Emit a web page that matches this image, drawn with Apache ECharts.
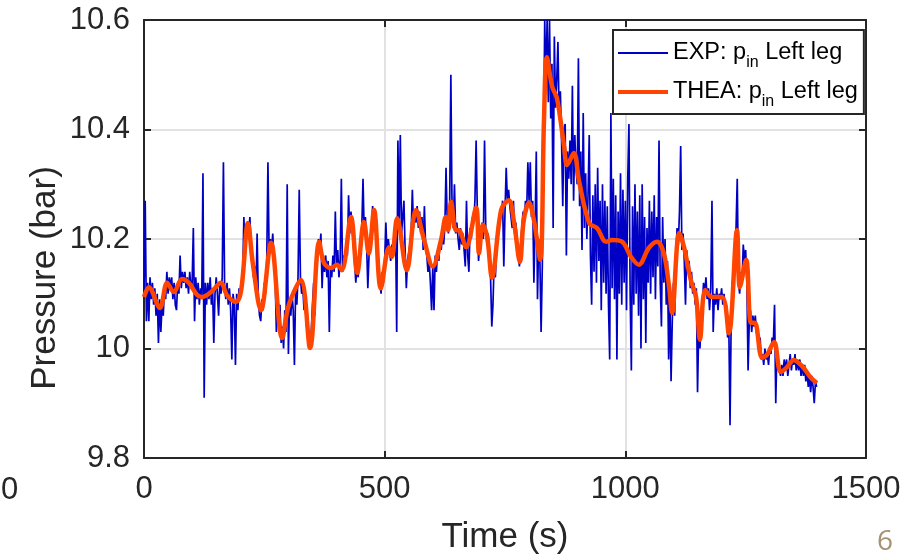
<!DOCTYPE html>
<html>
<head>
<meta charset="utf-8">
<script src="https://cdn.jsdelivr.net/npm/echarts@6/dist/echarts.min.js"></script>
<style>
html,body{margin:0;padding:0;background:#fff;}
#chart{width:912px;height:555px;}
</style>
</head>
<body>
<div id="chart"></div>
<script>
// ---- data ----
const xTicks = [0, 500, 1000, 1500];
const yTicks = [9.8, 10, 10.2, 10.4, 10.6];
const seriesNames = ['EXP: pin Left leg', 'THEA: pin Left leg'];

// EXP measured signal, one reading every 2.5 s starting at t = 0 (10 readings per row = 25 s)
const expStart = 0;
const expStep = 2.5;
const expValues = [
  10.10,10.27,10.05,10.12,10.05,10.13,10.09,10.12,10.08,10.11,
  10.06,10.10,10.01,10.09,10.03,10.08,10.06,10.11,10.09,10.14,
  10.10,10.13,10.11,10.13,10.09,10.12,10.08,10.07,10.12,10.10,
  10.17,10.11,10.14,10.12,10.14,10.11,10.13,10.10,10.14,10.11,
  10.12,10.22,10.05,10.13,10.09,10.12,10.08,10.11,10.09,10.32,
  9.91,10.12,10.08,10.12,10.09,10.13,10.08,10.11,10.01,10.10,
  10.13,10.10,10.06,10.12,10.10,10.13,10.34,10.11,10.09,10.12,
  10.08,10.11,10.07,9.98,10.10,10.08,9.97,10.10,10.07,10.11,
  10.09,10.12,10.13,10.24,10.17,10.20,10.23,10.21,10.24,10.18,
  10.16,10.13,10.15,10.10,10.21,10.09,10.06,10.05,10.09,10.07,
  10.12,10.10,10.16,10.34,10.17,10.20,10.18,10.21,10.16,10.13,
  10.03,10.10,10.06,10.08,10.01,10.04,10.00,10.07,10.03,10.30,
  9.99,10.09,10.06,10.10,10.07,9.97,10.11,10.08,10.13,10.29,
  10.13,10.10,10.11,10.07,10.08,10.04,10.05,10.01,10.00,10.03,
  10.08,10.12,10.06,10.17,10.16,10.20,10.18,10.21,10.11,10.17,
  10.14,10.17,10.13,10.16,10.03,10.15,10.13,10.17,10.14,10.25,
  10.15,10.18,10.13,10.16,10.31,10.14,10.17,10.15,10.19,10.17,
  10.28,10.21,10.25,10.22,10.19,10.16,10.12,10.15,10.13,10.17,
  10.19,10.22,10.31,10.21,10.24,10.19,10.11,10.17,10.20,10.22,
  10.26,10.22,10.25,10.20,10.17,10.15,10.12,10.10,10.14,10.12,
  10.16,10.23,10.17,10.20,10.18,10.16,10.19,10.17,10.21,10.23,
  10.03,10.38,10.22,10.39,10.21,10.24,10.27,10.18,10.11,10.16,
  10.16,10.19,10.21,10.29,10.22,10.25,10.23,10.26,10.22,10.25,
  10.21,10.24,10.18,10.26,10.19,10.17,10.14,10.16,10.12,10.07,
  10.15,10.07,10.17,10.14,10.18,10.16,10.20,10.18,10.21,10.19,
  10.22,10.33,10.23,10.21,10.26,10.50,10.25,10.22,10.30,10.21,
  10.23,10.20,10.18,10.22,10.19,10.21,10.18,10.15,10.27,10.17,
  10.14,10.22,10.20,10.24,10.23,10.27,10.38,10.25,10.16,10.19,
  10.21,10.23,10.20,10.38,10.22,10.19,10.21,10.16,10.13,10.04,
  10.08,10.16,10.13,10.18,10.20,10.22,10.25,10.24,10.27,10.15,
  10.25,10.33,10.27,10.29,10.26,10.24,10.22,10.27,10.21,10.23,
  10.20,10.17,10.15,10.19,10.22,10.25,10.23,10.27,10.25,10.34,
  10.27,10.34,10.24,10.27,10.12,10.22,10.36,10.09,10.20,10.16,
  10.03,10.15,10.35,10.60,10.48,10.60,10.45,10.60,10.42,10.52,
  10.22,10.57,10.44,10.49,10.56,10.42,10.47,10.38,10.26,10.40,
  10.41,10.17,10.36,10.31,10.38,10.30,10.48,10.27,10.39,10.33,
  10.30,10.53,10.26,10.36,10.18,10.43,10.22,10.32,10.20,10.28,
  10.39,10.17,10.08,10.28,10.14,10.30,10.12,10.33,10.16,10.27,
  10.07,10.30,10.12,10.27,10.10,10.26,10.08,9.98,10.43,10.11,
  10.31,10.09,10.28,9.98,10.25,10.10,10.32,10.08,10.29,10.12,
  10.27,10.07,10.31,10.41,10.10,9.96,10.26,10.08,10.30,10.10,
  10.25,10.06,10.28,10.00,10.30,10.09,10.24,10.01,10.22,10.12,
  10.27,10.10,10.25,10.13,10.28,10.09,10.24,10.15,10.38,10.12,
  10.04,10.24,10.12,10.20,10.08,10.16,9.98,10.10,9.94,10.05,
  10.12,10.06,10.17,10.22,10.19,10.25,10.37,10.18,10.21,10.16,
  10.08,10.18,10.14,10.16,10.11,10.14,10.10,10.12,10.08,10.11,
  9.92,10.04,10.00,10.05,10.08,10.12,10.10,10.13,10.09,10.11,
  10.07,10.11,10.27,10.03,10.10,10.08,10.11,10.07,10.10,10.09,
  10.11,10.08,10.10,10.07,10.08,10.02,10.04,9.86,10.06,10.12,
  10.14,10.19,10.22,10.31,10.12,10.10,10.14,10.12,10.19,10.16,
  10.18,10.12,9.96,10.05,10.07,10.03,10.06,10.04,10.06,10.03,
  10.03,10.00,10.02,9.98,9.99,9.97,10.00,9.98,9.99,9.97,
  10.00,9.99,10.02,10.01,10.08,9.90,10.00,9.97,9.96,9.95,
  9.97,9.95,9.98,9.96,9.98,9.95,9.97,9.99,9.96,9.98,
  9.97,9.99,9.96,9.98,9.96,9.98,9.95,9.97,9.95,9.97,
  9.94,9.96,9.93,9.95,9.92,9.95,9.93,9.90,9.94,9.93
];

// THEA simulation
const theaTimes = [
  0,10,33,48,62,79,93,110,120,139,160,172,191,202,216,226,243,264,287,301,
  326,345,364,374,389,401,411,430,443,457,467,478,492,509,515,526,546,565,582,600,
  617,627,632,638,648,654,669,690,696,704,713,723,742,758,769,781,789,800,810,823,
  831,837,848,858,873,879,893,904,925,941,960,972,993,1012,1028,1049,1066,1080,1091,1097,
  1112,1122,1136,1147,1155,1166,1180,1201,1215,1232,1238,1251,1261,1269,1284,1294,1309,1323,1336,1350,
  1361,1371,1386,1398
];
const theaValues = [
  10.094,10.112,10.074,10.12,10.103,10.127,10.12,10.098,10.094,10.103,10.12,10.098,10.085,10.107,10.229,10.156,10.07,10.193,10.019,10.08,
  10.125,10.001,10.195,10.156,10.147,10.153,10.143,10.24,10.138,10.231,10.174,10.253,10.11,10.185,10.167,10.238,10.143,10.253,10.198,10.15,
  10.198,10.24,10.216,10.268,10.216,10.216,10.185,10.257,10.174,10.226,10.204,10.129,10.253,10.271,10.229,10.158,10.235,10.266,10.235,10.162,
  10.417,10.532,10.478,10.457,10.368,10.335,10.357,10.305,10.229,10.22,10.195,10.198,10.195,10.167,10.153,10.184,10.195,10.174,10.112,10.065,
  10.211,10.185,10.125,10.094,10.016,10.107,10.094,10.094,10.028,10.216,10.112,10.162,10.047,10.047,9.983,9.988,10.012,9.957,9.966,9.979,
  9.973,9.964,9.946,9.937
];

// ---- chart ----
const FONT = 'Liberation Sans, Arial, Helvetica, sans-serif';
const AX = '#262626';
const expData = expValues.map((v, i) => [expStart + i * expStep, v]);
const theaData = theaValues.map((v, i) => [theaTimes[i], v]);

const chart = echarts.init(document.getElementById('chart'), null, {renderer: 'canvas'});

const axisLine = {show: true, onZero: false, lineStyle: {color: AX, width: 2}};
const axisTick = {show: true, inside: true, length: 7, lineStyle: {color: AX, width: 2}};
const splitLine = {show: true, lineStyle: {color: '#e2e2e2', width: 2}};

chart.setOption({
  animation: false,
  backgroundColor: '#fff',
  grid: {left: 144, right: 46, top: 20, bottom: 97, containLabel: false, outerBoundsMode: 'none'},
  xAxis: [
    {type: 'value', min: xTicks[0], max: xTicks[xTicks.length - 1], interval: 500, position: 'bottom',
     axisLine, axisTick, splitLine,
     axisLabel: {fontSize: 31, color: AX, fontFamily: FONT, margin: 16, formatter: v => String(v)},
     name: 'Time (s)', nameLocation: 'middle', nameGap: 62,
     nameTextStyle: {fontSize: 35, color: AX, fontFamily: FONT}},
    {type: 'value', min: xTicks[0], max: xTicks[xTicks.length - 1], interval: 500, position: 'top',
     axisLine, axisTick, splitLine: {show: false}, axisLabel: {show: false}}
  ],
  yAxis: [
    {type: 'value', min: yTicks[0], max: yTicks[yTicks.length - 1], interval: 0.2, position: 'left',
     axisLine, axisTick, splitLine,
     axisLabel: {fontSize: 31, color: AX, fontFamily: FONT, margin: 14,
       formatter: v => String(Math.round(v * 10) / 10)}},
    {type: 'value', min: yTicks[0], max: yTicks[yTicks.length - 1], interval: 0.2, position: 'right',
     axisLine, axisTick, splitLine: {show: false}, axisLabel: {show: false}}
  ],
  legend: {
    left: 613, top: 30, orient: 'vertical',
    backgroundColor: '#fff', borderColor: AX, borderWidth: 2,
    padding: [11, 6, 4, 5], itemGap: 9, itemWidth: 50, itemHeight: 14,
    data: [
      {name: seriesNames[0], icon: 'path://M0,0M50,14M0,6L50,6L50,8L0,8Z'},
      {name: seriesNames[1], icon: 'path://M0,0M50,14M0,5L50,5L50,9L0,9Z'}
    ],
    formatter: name => {
      const parts = name.split(' pin ');
      return '{t|' + parts[0] + ' p}{s|in}{t| ' + parts[1] + '}';
    },
    textStyle: {
      color: '#000', fontFamily: FONT,
      rich: {
        t: {fontSize: 23.5, fontFamily: FONT, color: '#000', lineHeight: 36},
        s: {fontSize: 16, fontFamily: FONT, color: '#000', lineHeight: 16, verticalAlign: 'bottom'}
      }
    }
  },
  series: [
    {name: seriesNames[0], type: 'line', data: expData, symbol: 'none', clip: true,
     lineStyle: {color: '#0000c4', width: 1.7}, itemStyle: {color: '#0000c4'}, z: 2},
    {name: seriesNames[1], type: 'line', data: theaData, symbol: 'none', smooth: 0.35, clip: true,
     lineStyle: {color: '#ff4500', width: 4.5}, itemStyle: {color: '#ff4500'}, z: 3}
  ],
  graphic: [
    {type: 'text', x: 45, y: 278, rotation: Math.PI / 2,
     style: {text: 'Pressure (bar)', font: '35px ' + FONT, fill: AX, align: 'center', verticalAlign: 'middle'}},
    {type: 'text', x: 1, y: 490,
     style: {text: '0', font: '31px ' + FONT, fill: AX, align: 'left', verticalAlign: 'middle'}},
    {type: 'text', x: 885, y: 542,
     style: {text: '6', font: '28px "Open Sans", Lato, sans-serif', fill: '#a49272', align: 'center', verticalAlign: 'middle'}}
  ]
});
</script>
</body>
</html>
